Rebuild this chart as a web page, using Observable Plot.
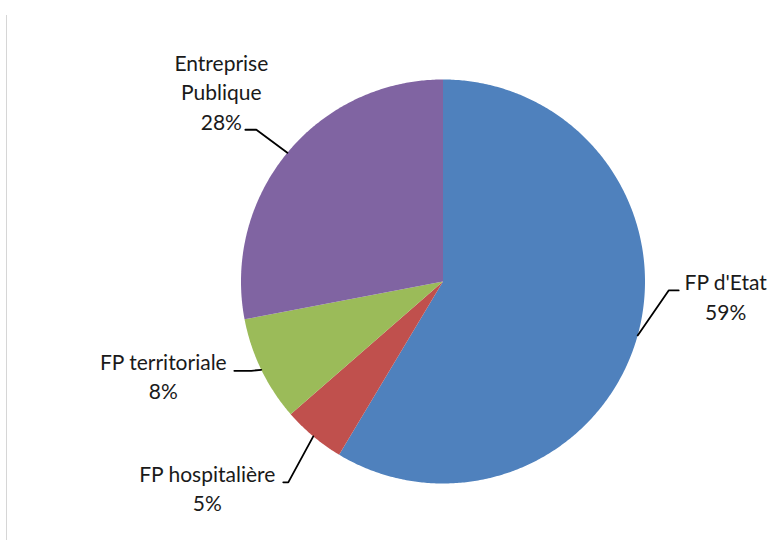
<!DOCTYPE html>
<html><head><meta charset="utf-8">
<script src="https://cdn.jsdelivr.net/npm/d3@7"></script>
<script src="https://cdn.jsdelivr.net/npm/@observablehq/plot@0.6"></script>
<style>
html,body{margin:0;padding:0;background:#fff;}
#wrap{position:relative;width:770px;height:540px;overflow:hidden;}
#frame{position:absolute;left:6px;top:15px;width:0;height:525px;border-left:1px solid #d6d6d6;}
</style></head><body>
<div id="wrap"><div id="chart"></div><div id="frame"></div></div>
<script>
// Data
const categories = ["FP d'Etat", "FP hospitalière", "FP territoriale", "Entreprise Publique"];
const values = [58.6, 5.0, 8.4, 28.0];
const colors = ["#4F81BD", "#C0504D", "#9BBB59", "#8064A2"];
const labelNames = ["FP d'Etat", "FP hospitalière", "FP territoriale", "Entreprise\nPublique"];

// Layout (pixels)
const R = 202, CX = 442.5, CY = 281, W = 770, H = 540;
const layout = [
  {tdx: 88, tdy: -40, elbow: [31, -45], end: [41, -45]},
  {tdx: -106, tdy: 51, elbow: [-25, 46], end: [-30, 46]},
  {tdx: -98, tdy: 5, elbow: [-10, 1], end: [-27, 1]},
  {tdx: -66, tdy: -62, elbow: [-31, -23], end: [-42, -23]}
];

const total = d3.sum(values);
let acc = 0;
const slices = categories.map((name, i) => {
  const a0 = acc / total * 2 * Math.PI;
  acc += values[i];
  const a1 = acc / total * 2 * Math.PI;
  return {name, i, a0, a1, mid: (a0 + a1) / 2,
    label: labelNames[i] + "\n" + Math.round(values[i] / total * 100) + "%"};
});

const pts = [];
for (const s of slices) {
  pts.push({name: s.name, x: 0, y: 0});
  const n = Math.max(2, Math.ceil((s.a1 - s.a0) / (Math.PI / 360)));
  for (let k = 0; k <= n; k++) {
    const a = s.a0 + (s.a1 - s.a0) * k / n;
    pts.push({name: s.name, x: Math.sin(a), y: Math.cos(a)});
  }
}

const leaders = [];
for (const s of slices) {
  const L = layout[s.i];
  const mx = Math.sin(s.mid), my = Math.cos(s.mid);
  leaders.push({name: s.name, x: mx, y: my});
  leaders.push({name: s.name, x: mx + L.elbow[0] / R, y: my - L.elbow[1] / R});
  leaders.push({name: s.name, x: mx + L.end[0] / R, y: my - L.end[1] / R});
}

const textMarks = slices.map(s => Plot.text([s], {
  x: d => Math.sin(d.mid), y: d => Math.cos(d.mid), text: "label",
  dx: layout[s.i].tdx, dy: layout[s.i].tdy,
  fontSize: 21, lineHeight: 1.4, fontFamily: "Lato, 'Open Sans', sans-serif",
  fill: "#1a1a1a", textAnchor: "middle", lineAnchor: "middle"
}));

const chart = Plot.plot({
  width: W, height: H, margin: 0,
  style: {background: "#fff"},
  x: {domain: [-CX / R, (W - CX) / R], axis: null},
  y: {domain: [-(H - CY) / R, CY / R], axis: null},
  color: {domain: categories, range: colors},
  marks: [
    Plot.line(pts, {x: "x", y: "y", z: "name", fill: "name", stroke: "none", curve: "linear"}),
    Plot.line(leaders, {x: "x", y: "y", z: "name", stroke: "#000", strokeWidth: 1.8}),
    ...textMarks
  ]
});
document.getElementById("chart").appendChild(chart);
</script>
</body></html>
